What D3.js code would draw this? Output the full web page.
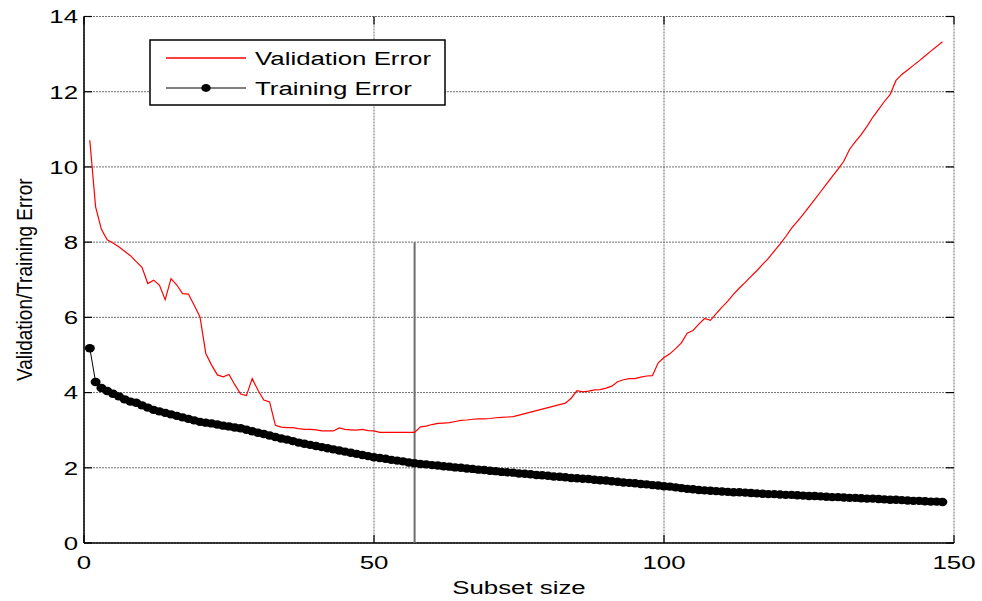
<!DOCTYPE html>
<html>
<head>
<meta charset="utf-8">
<script src="https://cdn.jsdelivr.net/npm/d3@7"></script>
<style>
  body { margin: 0; background: #fff; }
  text { font-family: "Liberation Sans", Arial, sans-serif; fill: #000; }
</style>
</head>
<body>
<div id="chart"></div>
<script>
// subset sizes 1..148
var subsetSize = d3.range(1, 149);

var validationError = [
  10.71, 8.94, 8.34, 8.06, 7.98, 7.88, 7.76, 7.64, 7.48, 7.33,
  6.90, 6.99, 6.86, 6.47, 7.03, 6.86, 6.63, 6.62, 6.32, 6.01,
  5.04, 4.73, 4.47, 4.42, 4.48, 4.21, 3.96, 3.92, 4.37, 4.06,
  3.80, 3.75, 3.13, 3.08, 3.07, 3.07, 3.04, 3.02, 3.02, 3.01,
  2.98, 2.98, 2.98, 3.06, 3.02, 3.01, 3.00, 3.02, 2.99, 2.98,
  2.94, 2.94, 2.94, 2.94, 2.94, 2.94, 2.94, 3.09, 3.11, 3.15,
  3.18, 3.19, 3.20, 3.23, 3.26, 3.27, 3.29, 3.30, 3.30, 3.31,
  3.33, 3.34, 3.35, 3.36, 3.40, 3.44, 3.48, 3.52, 3.56, 3.60,
  3.64, 3.68, 3.72, 3.85, 4.05, 4.02, 4.04, 4.07, 4.08, 4.12,
  4.17, 4.29, 4.34, 4.37, 4.37, 4.41, 4.44, 4.45, 4.79, 4.93,
  5.03, 5.17, 5.32, 5.58, 5.65, 5.82, 5.97, 5.92, 6.10, 6.27,
  6.43, 6.62, 6.78, 6.93, 7.09, 7.24, 7.41, 7.57, 7.76, 7.95,
  8.15, 8.37, 8.55, 8.74, 8.94, 9.14, 9.34, 9.54, 9.74, 9.94,
  10.15, 10.47, 10.67, 10.86, 11.08, 11.32, 11.53, 11.74, 11.93, 12.30,
  12.46, 12.58, 12.70, 12.82, 12.95, 13.08, 13.20, 13.33
];

var trainingError = [
  5.18, 4.28, 4.12, 4.04, 3.97, 3.90, 3.82, 3.76, 3.73, 3.66,
  3.60, 3.54, 3.50, 3.46, 3.42, 3.38, 3.34, 3.30, 3.26, 3.22,
  3.20, 3.18, 3.15, 3.12, 3.10, 3.07, 3.05, 3.01, 2.97, 2.93,
  2.90, 2.86, 2.82, 2.78, 2.75, 2.71, 2.67, 2.64, 2.61, 2.58,
  2.55, 2.52, 2.49, 2.46, 2.43, 2.40, 2.37, 2.34, 2.31, 2.28,
  2.26, 2.24, 2.21, 2.19, 2.17, 2.14, 2.12, 2.10, 2.09, 2.07,
  2.06, 2.04, 2.03, 2.01, 2.00, 1.98, 1.97, 1.95, 1.94, 1.92,
  1.91, 1.89, 1.88, 1.87, 1.85, 1.84, 1.83, 1.81, 1.80, 1.79,
  1.77, 1.76, 1.75, 1.73, 1.72, 1.71, 1.70, 1.68, 1.67, 1.66,
  1.64, 1.63, 1.61, 1.60, 1.59, 1.57, 1.56, 1.54, 1.53, 1.51,
  1.50, 1.48, 1.46, 1.44, 1.43, 1.41, 1.40, 1.39, 1.38, 1.37,
  1.36, 1.35, 1.35, 1.34, 1.33, 1.32, 1.31, 1.30, 1.30, 1.29,
  1.28, 1.28, 1.27, 1.26, 1.25, 1.25, 1.24, 1.23, 1.22, 1.22,
  1.21, 1.20, 1.20, 1.19, 1.18, 1.18, 1.17, 1.16, 1.15, 1.15,
  1.14, 1.13, 1.12, 1.12, 1.11, 1.10, 1.10, 1.09
];

var xTicks = [0, 50, 100, 150];
var yTicks = [0, 2, 4, 6, 8, 10, 12, 14];
var legendNames = ["Validation Error", "Training Error"];

// the vertical marker at the chosen subset size
var markerX = 57, markerTop = 8;

var svgWidth = 982, svgHeight = 601;
var plot = {left: 84, right: 954, top: 16.5, bottom: 543};
var sx = 1.36; // text in the picture is stretched sideways

var x = d3.scaleLinear().domain([0, 150]).range([plot.left, plot.right]);
var y = d3.scaleLinear().domain([0, 14]).range([plot.bottom, plot.top]);

var svg = d3.select("#chart").append("svg")
    .attr("width", svgWidth)
    .attr("height", svgHeight);

// grid
svg.append("g").selectAll("line")
    .data(yTicks)
    .enter().append("line")
    .attr("x1", plot.left).attr("x2", plot.right)
    .attr("y1", d => y(d)).attr("y2", d => y(d))
    .attr("stroke", "#6f6f6f")
    .attr("stroke-dasharray", "2,1");

svg.append("g").selectAll("line")
    .data(xTicks)
    .enter().append("line")
    .attr("x1", d => x(d)).attr("x2", d => x(d))
    .attr("y1", plot.top).attr("y2", plot.bottom)
    .attr("stroke", "#6f6f6f")
    .attr("stroke-dasharray", "2,1");

// ticks, pointing inward on all four sides
var tickLen = 8;
var ticks = svg.append("g").attr("stroke", "#000").attr("stroke-width", 1.2);
yTicks.forEach(function(t) {
    ticks.append("line").attr("x1", plot.left).attr("x2", plot.left + tickLen).attr("y1", y(t)).attr("y2", y(t));
    ticks.append("line").attr("x1", plot.right).attr("x2", plot.right - tickLen).attr("y1", y(t)).attr("y2", y(t));
});
xTicks.forEach(function(t) {
    ticks.append("line").attr("x1", x(t)).attr("x2", x(t)).attr("y1", plot.bottom).attr("y2", plot.bottom - tickLen);
    ticks.append("line").attr("x1", x(t)).attr("x2", x(t)).attr("y1", plot.top).attr("y2", plot.top + tickLen);
});

// axis lines (left + bottom)
svg.append("line").attr("x1", plot.left).attr("x2", plot.left).attr("y1", plot.top).attr("y2", plot.bottom)
    .attr("stroke", "#000").attr("stroke-width", 1.5);
svg.append("line").attr("x1", plot.left).attr("x2", plot.right).attr("y1", plot.bottom).attr("y2", plot.bottom)
    .attr("stroke", "#000").attr("stroke-width", 1.5);

// tick labels
svg.append("g").selectAll("text")
    .data(yTicks)
    .enter().append("text")
    .attr("transform", d => "translate(78," + y(d) + ") scale(" + sx + ",1)")
    .attr("text-anchor", "end")
    .attr("dy", "0.36em")
    .attr("font-size", 19)
    .text(d => d);

svg.append("g").selectAll("text")
    .data(xTicks)
    .enter().append("text")
    .attr("transform", d => "translate(" + x(d) + ",562) scale(" + sx + ",1)")
    .attr("text-anchor", "middle")
    .attr("dy", "0.36em")
    .attr("font-size", 19)
    .text(d => d);

// axis titles
svg.append("text")
    .attr("transform", "translate(" + ((plot.left + plot.right) / 2) + ",587) scale(" + sx + ",1)")
    .attr("text-anchor", "middle")
    .attr("dy", "0.36em")
    .attr("font-size", 19)
    .text("Subset size");

svg.append("text")
    .attr("transform", "translate(24," + ((plot.top + plot.bottom) / 2) + ") scale(1.2,1) rotate(-90)")
    .attr("text-anchor", "middle")
    .attr("dy", "0.36em")
    .attr("font-size", 19)
    .text("Validation/Training Error");

// marker line
svg.append("line")
    .attr("x1", x(markerX)).attr("x2", x(markerX))
    .attr("y1", y(0)).attr("y2", y(markerTop))
    .attr("stroke", "#6e6e6e")
    .attr("stroke-width", 2);

// validation error
var errLine = d3.line()
    .x((d, i) => x(subsetSize[i]))
    .y(d => y(d));

svg.append("path")
    .datum(validationError)
    .attr("d", errLine)
    .attr("fill", "none")
    .attr("stroke", "#ff0000")
    .attr("stroke-width", 1.2);

// training error
svg.append("path")
    .datum(trainingError)
    .attr("d", errLine)
    .attr("fill", "none")
    .attr("stroke", "#000")
    .attr("stroke-width", 1);

svg.append("g").selectAll("ellipse")
    .data(trainingError)
    .enter().append("ellipse")
    .attr("cx", (d, i) => x(subsetSize[i]))
    .attr("cy", d => y(d))
    .attr("rx", 5)
    .attr("ry", 4.2)
    .attr("fill", "#000");

// legend
var legend = svg.append("g");
legend.append("rect")
    .attr("x", 150).attr("y", 40)
    .attr("width", 295).attr("height", 65)
    .attr("fill", "#fff")
    .attr("stroke", "#000")
    .attr("stroke-width", 1.5);

var rows = legend.selectAll(".row")
    .data(legendNames)
    .enter().append("g")
    .attr("transform", (d, i) => "translate(0," + (58 + i * 30) + ")");

rows.append("line")
    .attr("x1", 166).attr("x2", 246)
    .attr("stroke", (d, i) => i === 0 ? "#ff0000" : "#000")
    .attr("stroke-width", (d, i) => i === 0 ? 1.3 : 1);

rows.filter((d, i) => i === 1).append("ellipse")
    .attr("cx", 206).attr("cy", 0)
    .attr("rx", 4.7).attr("ry", 3.9)
    .attr("fill", "#000");

rows.append("text")
    .attr("transform", "translate(255,0) scale(" + sx + ",1)")
    .attr("dy", "0.36em")
    .attr("font-size", 19)
    .text(d => d);
</script>
</body>
</html>
